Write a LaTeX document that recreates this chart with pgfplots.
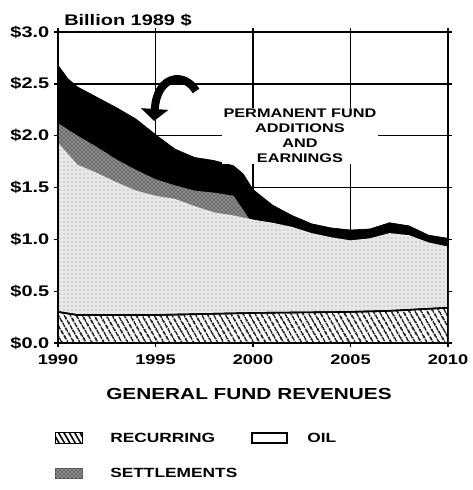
\documentclass[border=0pt]{standalone}
\usepackage{fontspec}
\setmainfont{Liberation Sans}[FakeStretch=1.3]
\usepackage{pgfplots}
\pgfplotsset{compat=1.18}
\usetikzlibrary{patterns,patterns.meta,arrows.meta}
\newcommand{\fs}[1]{\bfseries\fontsize{#1}{#1}\selectfont}
\begin{document}
\begin{tikzpicture}
\begin{axis}[
  at={(43.5pt,-257.25pt)}, anchor=south west,
  scale only axis, width=292.5pt, height=233.25pt,
  xmin=1990, xmax=2010, ymin=0, ymax=3,
  xtick={1990,1995,2000,2005,2010},
  xticklabels={1990,1995,2000,2005,2010},
  ytick={0,0.5,1,1.5,2,2.5,3},
  yticklabels={\$0.0,\$0.5,\$1.0,\$1.5,\$2.0,\$2.5,\$3.0},
  xticklabel style={font=\fs{10.5}, yshift=-2pt},
  yticklabel style={font=\fs{11.5}},
  grid=major,
  major grid style={black, line width=1pt},
  axis line style={line width=1.5pt},
  tick style={black, line width=1pt},
  tick align=outside, major tick length=3pt,
]
% Permanent fund additions and earnings (top of stack)
\addplot[fill=black, draw=black, line width=0.5pt] coordinates {
(1990,2.68) (1990.5,2.55) (1991,2.47) (1992,2.37) (1993,2.27) (1994,2.16) (1995,2.01)
(1996,1.87) (1997,1.79) (1998,1.76) (1999,1.71) (1999.5,1.63) (2000,1.48) (2001,1.33)
(2002,1.23) (2003,1.15) (2004,1.11) (2005,1.09) (2006,1.10) (2007,1.16)
(2008,1.13) (2009,1.04) (2010,1.01)} \closedcycle;
% Settlements (top of settlements layer)
\addplot[draw=none, fill=black!45, postaction={pattern=crosshatch dots, pattern color=black}] coordinates {
(1990,2.12) (1991,2.00) (1992,1.89) (1993,1.77) (1994,1.67) (1995,1.58)
(1996,1.52) (1997,1.47) (1998,1.45) (1999,1.42) (1999.8,1.20) (2000,1.19)} \closedcycle;
% Oil (top of oil layer)
\addplot[draw=none, fill=black!9, postaction={pattern=dots, pattern color=black!45}] coordinates {
(1990,1.93) (1991,1.72) (1992,1.64) (1993,1.55) (1994,1.47) (1995,1.42)
(1996,1.39) (1997,1.32) (1998,1.26) (1999,1.23) (2000,1.19) (2001,1.16)
(2002,1.12) (2003,1.06) (2004,1.02) (2005,0.99) (2006,1.01) (2007,1.06)
(2008,1.04) (2009,0.97) (2010,0.93)} \closedcycle;
% Recurring
\addplot[draw=black, line width=1.2pt, fill=white, postaction={pattern={Lines[angle=-60,distance=4pt,line width=1.5pt]}, pattern color=black!85}] coordinates {
(1990,0.30) (1991,0.27) (1995,0.27) (2000,0.29) (2005,0.30) (2007,0.31)
(2008,0.32) (2010,0.34)} \closedcycle;
\draw[line width=1.5pt] (rel axis cs:0,0) rectangle (rel axis cs:1,1);
\end{axis}
\begin{scope}[x=0.75pt,y=-0.75pt]
\path[use as bounding box] (0,0) rectangle (469,490);
% arrow
\draw[line width=6pt, -{Triangle[width=20pt,length=9pt]}] (196,91) .. controls (185,72) and (157,74) .. (154,121);
\node[anchor=west, inner sep=0pt] at (64,20) {\fs{11.5}Billion 1989 \$};
\node[fill=white, inner sep=1pt, align=center, font=\bfseries\fontsize{9.4}{11.25}\selectfont] at (300,136)
  {PERMANENT FUND\\ADDITIONS\\AND\\EARNINGS};
\node[inner sep=0pt] at (249,394) {\fs{12}GENERAL FUND REVENUES};
% legend
\filldraw[draw=black, line width=0.6pt, fill=white, postaction={pattern={Lines[angle=-60,distance=3.5pt,line width=1.2pt]}, pattern color=black}] (55,432) rectangle (82,443);
\node[anchor=west, inner sep=0pt] at (110,438) {\fs{10}RECURRING};
\draw[line width=1.2pt, fill=white] (252,433) rectangle (287,443);
\node[anchor=west, inner sep=0pt] at (307,438) {\fs{10}OIL};
\filldraw[draw=black!60, line width=0.4pt, fill=black!45, postaction={pattern=crosshatch dots, pattern color=black}] (55,468) rectangle (82,478);
\node[anchor=west, inner sep=0pt] at (110,473) {\fs{10}SETTLEMENTS};
\end{scope}
\end{tikzpicture}
\end{document}
